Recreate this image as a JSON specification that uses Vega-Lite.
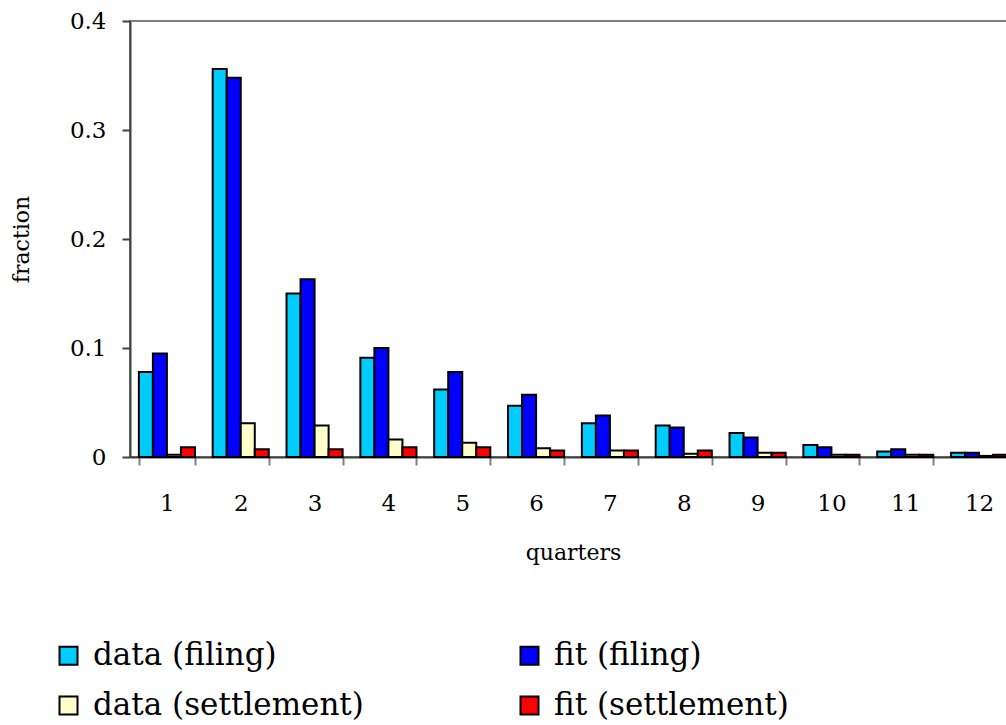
{
  "$schema": "https://vega.github.io/schema/vega-lite/v6.json",
  "width": 886,
  "height": 436,
  "autosize": "none",
  "padding": {"left": 130, "top": 21, "right": 0, "bottom": 268},
  "background": "white",
  "config": {
    "view": {"stroke": "#808080", "strokeWidth": 2},
    "font": "DejaVu Serif"
  },
  "data": {
    "values": [
      {"quarter": 1, "series": "data (filing)", "fraction": 0.078},
      {"quarter": 1, "series": "fit (filing)", "fraction": 0.095},
      {"quarter": 1, "series": "data (settlement)", "fraction": 0.002},
      {"quarter": 1, "series": "fit (settlement)", "fraction": 0.009},
      {"quarter": 2, "series": "data (filing)", "fraction": 0.356},
      {"quarter": 2, "series": "fit (filing)", "fraction": 0.348},
      {"quarter": 2, "series": "data (settlement)", "fraction": 0.031},
      {"quarter": 2, "series": "fit (settlement)", "fraction": 0.007},
      {"quarter": 3, "series": "data (filing)", "fraction": 0.150},
      {"quarter": 3, "series": "fit (filing)", "fraction": 0.163},
      {"quarter": 3, "series": "data (settlement)", "fraction": 0.029},
      {"quarter": 3, "series": "fit (settlement)", "fraction": 0.007},
      {"quarter": 4, "series": "data (filing)", "fraction": 0.091},
      {"quarter": 4, "series": "fit (filing)", "fraction": 0.100},
      {"quarter": 4, "series": "data (settlement)", "fraction": 0.016},
      {"quarter": 4, "series": "fit (settlement)", "fraction": 0.009},
      {"quarter": 5, "series": "data (filing)", "fraction": 0.062},
      {"quarter": 5, "series": "fit (filing)", "fraction": 0.078},
      {"quarter": 5, "series": "data (settlement)", "fraction": 0.013},
      {"quarter": 5, "series": "fit (settlement)", "fraction": 0.009},
      {"quarter": 6, "series": "data (filing)", "fraction": 0.047},
      {"quarter": 6, "series": "fit (filing)", "fraction": 0.057},
      {"quarter": 6, "series": "data (settlement)", "fraction": 0.008},
      {"quarter": 6, "series": "fit (settlement)", "fraction": 0.006},
      {"quarter": 7, "series": "data (filing)", "fraction": 0.031},
      {"quarter": 7, "series": "fit (filing)", "fraction": 0.038},
      {"quarter": 7, "series": "data (settlement)", "fraction": 0.006},
      {"quarter": 7, "series": "fit (settlement)", "fraction": 0.006},
      {"quarter": 8, "series": "data (filing)", "fraction": 0.029},
      {"quarter": 8, "series": "fit (filing)", "fraction": 0.027},
      {"quarter": 8, "series": "data (settlement)", "fraction": 0.003},
      {"quarter": 8, "series": "fit (settlement)", "fraction": 0.006},
      {"quarter": 9, "series": "data (filing)", "fraction": 0.022},
      {"quarter": 9, "series": "fit (filing)", "fraction": 0.018},
      {"quarter": 9, "series": "data (settlement)", "fraction": 0.004},
      {"quarter": 9, "series": "fit (settlement)", "fraction": 0.004},
      {"quarter": 10, "series": "data (filing)", "fraction": 0.011},
      {"quarter": 10, "series": "fit (filing)", "fraction": 0.009},
      {"quarter": 10, "series": "data (settlement)", "fraction": 0.002},
      {"quarter": 10, "series": "fit (settlement)", "fraction": 0.002},
      {"quarter": 11, "series": "data (filing)", "fraction": 0.005},
      {"quarter": 11, "series": "fit (filing)", "fraction": 0.007},
      {"quarter": 11, "series": "data (settlement)", "fraction": 0.002},
      {"quarter": 11, "series": "fit (settlement)", "fraction": 0.002},
      {"quarter": 12, "series": "data (filing)", "fraction": 0.004},
      {"quarter": 12, "series": "fit (filing)", "fraction": 0.004},
      {"quarter": 12, "series": "data (settlement)", "fraction": 0.001},
      {"quarter": 12, "series": "fit (settlement)", "fraction": 0.002}
    ]
  },
  "mark": {"type": "bar", "stroke": "black", "strokeWidth": 2},
  "encoding": {
    "x": {
      "field": "quarter",
      "type": "ordinal",
      "scale": {"paddingInner": 0.24, "paddingOuter": 0.12},
      "axis": {
        "title": "quarters",
        "labelAngle": 0,
        "labelFontSize": 23,
        "labelColor": "black",
        "labelPadding": 27,
        "tickBand": "extent",
        "tickSize": 8,
        "tickWidth": 2,
        "tickColor": "#808080",
        "domainColor": "#404040",
        "domainWidth": 2,
        "titleFontSize": 22,
        "titleFontWeight": "normal",
        "titleColor": "black",
        "titlePadding": 27
      }
    },
    "xOffset": {
      "field": "series",
      "type": "nominal",
      "sort": ["data (filing)", "fit (filing)", "data (settlement)", "fit (settlement)"]
    },
    "y": {
      "field": "fraction",
      "type": "quantitative",
      "scale": {"domain": [0, 0.4]},
      "axis": {
        "title": "fraction",
        "values": [0, 0.1, 0.2, 0.3, 0.4],
        "format": "~g",
        "grid": false,
        "labelFontSize": 23,
        "labelColor": "black",
        "labelPadding": 16,
        "tickSize": 8,
        "tickWidth": 2,
        "tickColor": "#404040",
        "domainColor": "#404040",
        "domainWidth": 2,
        "titleFontSize": 22,
        "titleFontWeight": "normal",
        "titleColor": "black",
        "titlePadding": 36
      }
    },
    "color": {
      "field": "series",
      "type": "nominal",
      "scale": {
        "domain": ["data (filing)", "data (settlement)", "fit (filing)", "fit (settlement)"],
        "range": ["#00CCFF", "#FFFFCC", "#0000FF", "#FF0000"]
      },
      "legend": {
        "title": null,
        "orient": "none",
        "legendX": -77,
        "legendY": 619,
        "columns": 2,
        "columnPadding": 150,
        "rowPadding": 18,
        "symbolType": "square",
        "symbolSize": 324,
        "symbolStrokeColor": "black",
        "symbolStrokeWidth": 2,
        "symbolOpacity": 1,
        "labelFontSize": 31,
        "labelColor": "black",
        "labelOffset": 9,
        "labelLimit": 400
      }
    }
  }
}
